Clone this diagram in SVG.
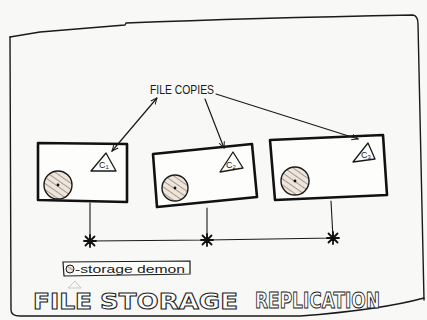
<svg xmlns="http://www.w3.org/2000/svg" width="427" height="320" viewBox="0 0 427 320">
<style>
.ink{fill:none;stroke:#1a1a1a;stroke-linecap:round;stroke-linejoin:round}
.box{fill:#fdfdfc;stroke:#111;stroke-width:2.6;stroke-linejoin:round}
.tri{fill:#fdfdfc;stroke:#1a1a1a;stroke-width:1.3;stroke-linejoin:round}
.lab{font-family:"Liberation Sans",Arial,sans-serif;fill:#1a1a1a}
.title{font-family:"DejaVu Sans",sans-serif;font-weight:bold;font-size:22px;fill:#fff;stroke:#222;stroke-width:1}
</style>
<defs>
<pattern id="hatch" width="5" height="5" patternUnits="userSpaceOnUse" patternTransform="rotate(-55)">
<rect width="5" height="5" fill="#eee6dc"/>
<line x1="0" y1="0" x2="0" y2="5" stroke="#5a4a3c" stroke-width="1"/>
</pattern>
<marker id="ah" viewBox="0 0 10 10" refX="9" refY="5" markerWidth="7" markerHeight="7" orient="auto-start-reverse" markerUnits="userSpaceOnUse">
<path d="M0,1 L9,5 L0,9" fill="none" stroke="#1a1a1a" stroke-width="1.4"/>
</marker>
<g id="star">
<path d="M-6,0 L6,0 M0,-6 L0,6 M-4.5,-4.5 L4.5,4.5 M-4.5,4.5 L4.5,-4.5" stroke="#111" stroke-width="1.8"/>
</g>
</defs>
<rect width="427" height="320" fill="#f8f8f6"/>
<g id="frame" class="ink" stroke-width="1.4">
<path d="M10,37 L40,32 L125,25 L126,23 Q250,18 413,15 Q418,16 418,24 L424,300"/>
<path d="M10,37 L11,310 Q11,316 20,316 L300,316 Q380,310 424,298"/>
</g>
<g id="file-copies">
<text class="lab" x="150" y="94" font-size="13" textLength="64" lengthAdjust="spacingAndGlyphs">FILE COPIES</text>
</g>
<g id="node1">
<path class="box" d="M38,143 L127,144 L127,202 L38,200 Z"/>
<circle cx="58" cy="185" r="14" fill="url(#hatch)" stroke="#1a1a1a" stroke-width="1.4"/>
<circle cx="58" cy="185" r="1.4" fill="#111"/>
<path class="tri" d="M91,171 L116,171 L106,153 Z"/>
<text class="lab" x="99" y="168" font-size="9">C<tspan font-size="6" dy="1">1</tspan></text>
</g>
<g id="node2">
<path class="box" d="M153,154 L252,144 L257,197 L157,207 Z"/>
<circle cx="175" cy="188" r="13" fill="url(#hatch)" stroke="#1a1a1a" stroke-width="1.4"/>
<circle cx="175" cy="188" r="1.4" fill="#111"/>
<path class="tri" d="M220,172 L243,168 L233,152 Z"/>
<text class="lab" x="226" y="168" font-size="9">C<tspan font-size="6" dy="1">2</tspan></text>
</g>
<g id="node3">
<path class="box" d="M270,140 L383,135 L387,195 L275,200 Z"/>
<circle cx="295" cy="181" r="14" fill="url(#hatch)" stroke="#1a1a1a" stroke-width="1.4"/>
<circle cx="295" cy="181" r="1.4" fill="#111"/>
<path class="tri" d="M353,162 L375,159 L368,143 Z"/>
<text class="lab" x="361" y="158" font-size="9">C<tspan font-size="6" dy="1">3</tspan></text>
</g>
<g id="connectors" class="ink" stroke-width="1.2">
<path d="M157,98 L112,151" marker-start="url(#ah)" marker-end="url(#ah)"/>
<path d="M205,99 L224,148" marker-end="url(#ah)"/>
<path d="M216,94 L358,139" marker-end="url(#ah)"/>
<path d="M90,203 L90,241 L207,240 L333,238 M207,208 L207,240 M331,201 L333,238" stroke-width="1.1"/>
<use href="#star" x="90" y="241"/>
<use href="#star" x="207" y="240"/>
<use href="#star" x="333" y="238"/>
</g>
<g id="legend">
<path d="M63,262 L190,261 L190,274 L64,276 Z" fill="#fdfdfc" stroke="#1a1a1a" stroke-width="1.2"/>
<circle cx="70" cy="269" r="4" fill="url(#hatch)" stroke="#1a1a1a" stroke-width="1"/>
<text class="lab" x="75" y="273" font-size="11" textLength="110" lengthAdjust="spacingAndGlyphs">-storage demon</text>
<path d="M68,288 L81,288 L75,281 Z" fill="none" stroke="#bbb" stroke-width="0.8"/>
</g>
<g id="title">
<text class="title" x="33" y="309" textLength="59" lengthAdjust="spacingAndGlyphs">FILE</text>
<text class="title" x="100" y="309" textLength="138" lengthAdjust="spacingAndGlyphs">STORAGE</text>
<text class="title" x="255" y="308" textLength="125" lengthAdjust="spacingAndGlyphs" font-size="20">REPLICATION</text>
</g>
</svg>
